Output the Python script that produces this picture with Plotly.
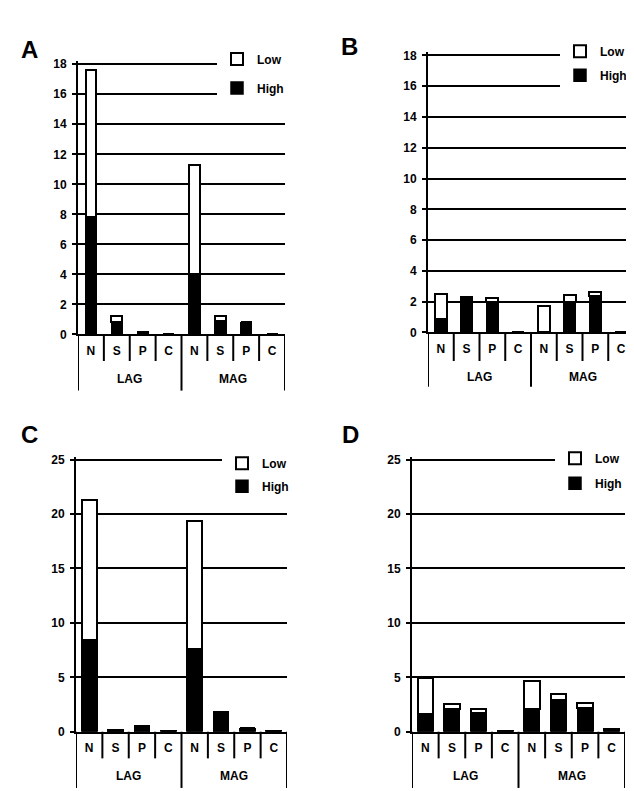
import plotly.graph_objects as go

# ---------------- data ----------------
groups = ["LAG", "MAG"]
sites = ["N", "S", "P", "C"]

# totals (Low + High) and High portion for each panel, order LAG N,S,P,C, MAG N,S,P,C
A_total = [17.65, 1.2, 0.15, 0.0, 11.3, 1.25, 0.8, 0.0]
A_high = [7.8, 0.85, 0.15, 0.0, 4.0, 0.9, 0.8, 0.0]

B_total = [2.5, 2.3, 2.25, 0.0, 1.7, 2.45, 2.62, 0.0]
B_high = [0.85, 2.3, 2.0, 0.0, 0.0, 2.0, 2.37, 0.0]

C_total = [21.3, 0.15, 0.5, 0.1, 19.4, 1.8, 0.3, 0.05]
C_high = [8.4, 0.1, 0.5, 0.1, 7.6, 1.8, 0.3, 0.05]

D_total = [4.98, 2.55, 2.1, 0.1, 4.65, 3.45, 2.6, 0.25]
D_high = [1.65, 2.1, 1.7, 0.1, 2.05, 2.9, 2.2, 0.25]

A_ticks = [0, 2, 4, 6, 8, 10, 12, 14, 16, 18]
B_ticks = [0, 2, 4, 6, 8, 10, 12, 14, 16, 18]
C_ticks = [0, 5, 10, 15, 20, 25]
D_ticks = [0, 5, 10, 15, 20, 25]

series_names = ["Low", "High"]
panel_letters = ["A", "B", "C", "D"]

# ---------------- layout geometry (page pixels) ----------------
OFF = 8                      # default body margin of the html page
W, H = 634 - OFF, 791 - OFF  # figure size
FONT = "Liberation Sans"

panels = [
    dict(letter="A", total=A_total, high=A_high, ticks=A_ticks,
         xd=(78, 285), yd=(61, 335), sep=362, grp=380, div=392,
         bw=0.42, leg=(217, 41), gap=10, let=(29, 46)),
    dict(letter="B", total=B_total, high=B_high, ticks=B_ticks,
         xd=(428, 634), yd=(52, 333), sep=362, grp=378, div=388,
         bw=0.47, leg=(560, 33), gap=5, let=(349, 43)),
    dict(letter="C", total=C_total, high=C_high, ticks=C_ticks,
         xd=(76, 287), yd=(462, 738), sep=765, grp=783, div=795,
         bw=0.58, leg=(222, 451), gap=4, let=(29, 437)),
    dict(letter="D", total=D_total, high=D_high, ticks=D_ticks,
         xd=(412, 625), yd=(462, 738), sep=765, grp=783, div=795,
         bw=0.58, leg=(555, 446), gap=6, let=(350, 437)),
]

xcats = [f"{g} {s}" for g in groups for s in sites]
xtext = sites * len(groups)


def px_x(p):
    return (p - OFF) / W


def px_y(p):
    return 1 - (p - OFF) / H


fig = go.Figure()
shapes = []
annotations = []
EXTRA = 3  # px of head-room so the top grid line is drawn

for i, pn in enumerate(panels):
    k = "" if i == 0 else str(i + 1)
    xa, ya = "x" + k, "y" + k
    leg = "legend" + k
    low = [t - h for t, h in zip(pn["total"], pn["high"])]

    fig.add_trace(go.Bar(
        x=xcats, y=pn["high"], name=series_names[1], xaxis=xa, yaxis=ya,
        marker=dict(color="black", line=dict(color="black", width=1.5)),
        width=pn["bw"], legend=leg, legendgroup=f"high{i}", legendrank=2))
    fig.add_trace(go.Bar(
        x=xcats, y=low, name=series_names[0], xaxis=xa, yaxis=ya,
        marker=dict(color="white", line=dict(color="black", width=2)),
        width=pn["bw"], legend=leg, legendgroup=f"low{i}", legendrank=1))

    ymax = pn["ticks"][-1]
    ph = pn["yd"][1] - pn["yd"][0]
    top_px = pn["yd"][0] - EXTRA
    ph_full = pn["yd"][1] - top_px

    fig.update_layout(**{
        "xaxis" + k: dict(
            domain=[px_x(pn["xd"][0]), min(1, px_x(pn["xd"][1]))], anchor=ya,
            type="category", categoryorder="array", categoryarray=xcats,
            range=[-0.5, 7.5], tickmode="array", tickvals=xcats, ticktext=xtext,
            showline=True, linecolor="black", linewidth=2, ticks="",
            showgrid=False, fixedrange=True, ticklabelstandoff=4,
            tickfont=dict(family=FONT, size=12, color="black", weight="bold")),
        "yaxis" + k: dict(
            domain=[px_y(pn["yd"][1]), px_y(top_px)], anchor=xa,
            range=[0, ymax * (1 + EXTRA / ph)], tickmode="array", tickvals=pn["ticks"],
            showline=True, linecolor="black", linewidth=2,
            ticks="outside", ticklen=4, tickwidth=2, tickcolor="black",
            ticklabelstandoff=3,
            showgrid=True, gridcolor="black", gridwidth=2, zeroline=False,
            fixedrange=True,
            tickfont=dict(family=FONT, size=12, color="black", weight="bold")),
        leg: dict(
            x=px_x(pn["leg"][0]), y=px_y(pn["leg"][1]), xanchor="left", yanchor="top",
            bgcolor="white", borderwidth=0, traceorder="grouped",
            tracegroupgap=pn["gap"], itemwidth=30,
            font=dict(family=FONT, size=12, color="black", weight="bold")),
    })

    # separators between site cells
    for pos in [0.5, 1.5, 2.5, 4.5, 5.5, 6.5]:
        shapes.append(dict(type="line", xref=xa, yref=ya + " domain",
                           x0=pos, x1=pos, y0=0, y1=-(pn["sep"] - pn["yd"][1]) / ph_full,
                           line=dict(color="black", width=2)))
    # group dividers
    for pos in [-0.5, 3.5, 7.5]:
        shapes.append(dict(type="line", xref=xa, yref=ya + " domain",
                           x0=pos, x1=pos, y0=0, y1=-(pn["div"] - pn["yd"][1]) / ph_full,
                           line=dict(color="black", width=2)))
    # group labels
    for gi, g in enumerate(groups):
        annotations.append(dict(
            text=g, xref=xa, yref=ya + " domain", x=gi * 4 + 1.5,
            y=-(pn["grp"] - pn["yd"][1]) / ph_full, showarrow=False,
            xanchor="center", yanchor="middle",
            font=dict(family=FONT, size=12, color="black", weight="bold")))
    # panel letter
    annotations.append(dict(
        text=pn["letter"], xref="paper", yref="paper",
        x=px_x(pn["let"][0]), y=px_y(pn["let"][1]), showarrow=False,
        xanchor="center", yanchor="middle",
        font=dict(family=FONT, size=24, color="black", weight="bold")))

fig.update_layout(
    width=W, height=H, margin=dict(l=0, r=0, t=0, b=0),
    paper_bgcolor="white", plot_bgcolor="white",
    barmode="stack", showlegend=True,
    shapes=shapes, annotations=annotations,
)

fig.write_html("out.html")
